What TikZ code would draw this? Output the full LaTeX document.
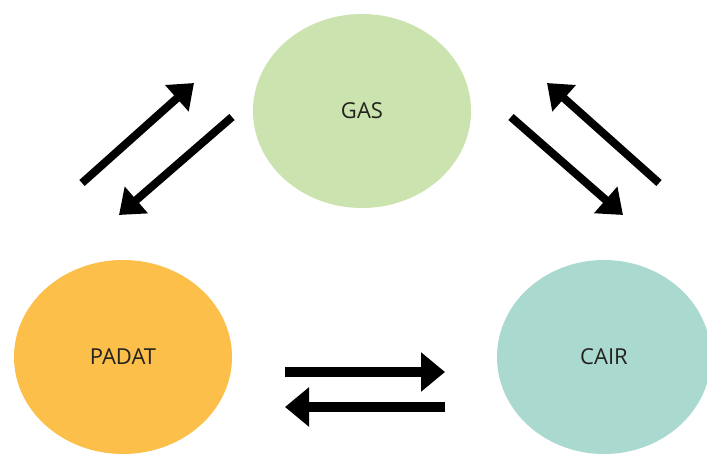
\documentclass[tikz,border=0pt]{standalone}
\usepackage{fontspec}
\setmainfont{Open Sans}
\usepackage{tikz}
\usetikzlibrary{shapes.geometric, arrows.meta, positioning}
\definecolor{GasGreen}{RGB}{203, 227, 174}
\definecolor{SolidOrange}{RGB}{251, 191, 74}
\definecolor{LiquidTeal}{RGB}{170, 217, 207}
\definecolor{LabelText}{RGB}{35, 35, 30}
\tikzset{
    phase/.style={ellipse, draw=none, inner sep=0pt, minimum width=218pt, minimum height=194pt, text=LabelText, font=\fontsize{22}{26}\selectfont},
    diagarr/.style={-{Triangle[length=23pt, width=34pt]}, line width=8pt, black},
    flatarr/.style={-{Triangle[length=24pt, width=38pt]}, line width=10pt, black}
}

\begin{document}
\begin{tikzpicture}[x=1pt, y=-1pt]
    \useasboundingbox (0,0) rectangle (707,453);

    \node[phase, fill=GasGreen] (gas) at (362,111) {GAS};
    \node[phase, fill=SolidOrange] (padat) at (123,357) {PADAT};
    \node[phase, fill=LiquidTeal, minimum width=214pt] (cair) at (604,357) {CAIR};

    % arrow ends
    \coordinate (ps-a) at (82,183);
    \coordinate (ps-b) at (194,83);
    \coordinate (sp-a) at (232,117);
    \coordinate (sp-b) at (119,215);
    \coordinate (cg-a) at (659,183);
    \coordinate (cg-b) at (547,83);
    \coordinate (gc-a) at (511,117);
    \coordinate (gc-b) at (623,215);
    \coordinate (pc-a) at (285,372);
    \coordinate (pc-b) at (445,372);
    \coordinate (cp-a) at (445,407);
    \coordinate (cp-b) at (285,407);

    \draw[diagarr] (ps-a) -- (ps-b);
    \draw[diagarr] (sp-a) -- (sp-b);
    \draw[diagarr] (cg-a) -- (cg-b);
    \draw[diagarr] (gc-a) -- (gc-b);
    \draw[flatarr] (pc-a) -- (pc-b);
    \draw[flatarr] (cp-a) -- (cp-b);
\end{tikzpicture}
\end{document}
